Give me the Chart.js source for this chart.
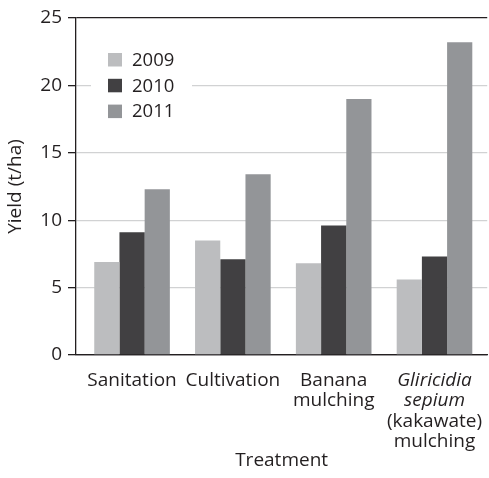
<!DOCTYPE html>
<html>
<head>
<meta charset="utf-8">
<script src="https://cdn.jsdelivr.net/npm/chart.js@4.4.1/dist/chart.umd.min.js"></script>
<style>
  html, body { margin: 0; padding: 0; background: #ffffff; }
  #wrap { width: 489px; height: 478px; position: relative; }
</style>
</head>
<body>
<div id="wrap"><canvas id="c"></canvas></div>
<script>
// ---- data ----
const categories = [
  ['Sanitation'],
  ['Cultivation'],
  ['Banana', 'mulching'],
  ['Gliricidia', 'sepium', '(kakawate)', 'mulching']
];
const italicLines = [[], [], [], [true, true, false, false]];
const seriesNames = ['2009', '2010', '2011'];
const yield2009 = [6.9, 8.5, 6.8, 5.6];
const yield2010 = [9.1, 7.1, 9.6, 7.3];
const yield2011 = [12.3, 13.4, 19.0, 23.2];
const yTicks = [0, 5, 10, 15, 20, 25];
const xTitle = 'Treatment';
const yTitle = 'Yield (t/ha)';

const colors = ['#bcbdbf', '#414042', '#939598'];
const ink = '#231f20';
const FONT = "'Open Sans', 'Noto Sans', sans-serif";

const seriesValues = [yield2009, yield2010, yield2011];
const datasets = seriesNames.map((name, s) => ({
  label: name,
  data: seriesValues[s].map((v, i) => ({ x: i, y: v })),
  backgroundColor: colors[s],
  borderWidth: 0,
  categoryPercentage: 0.75,
  barPercentage: 1.0
}));

// legend drawn inside chart area
const insideLegend = {
  id: 'insideLegend',
  afterDraw(chart) {
    const ctx = chart.ctx;
    const a = chart.chartArea;
    ctx.save();
    ctx.fillStyle = '#ffffff';
    ctx.fillRect(a.left + 15, a.top + 28, 101, 96);
    chart.data.datasets.forEach((ds, i) => {
      const y = a.top + 35 + i * 25.8;
      ctx.fillStyle = ds.backgroundColor;
      ctx.fillRect(a.left + 32, y, 14, 13.5);
      ctx.fillStyle = ink;
      ctx.font = '18.5px ' + FONT;
      ctx.textBaseline = 'middle';
      ctx.textAlign = 'left';
      ctx.fillText(ds.label, a.left + 56, y + 7.5);
    });
    ctx.restore();
  }
};

// draw the italic parts of tick labels
const italicTicks = {
  id: 'italicTicks',
  afterDraw(chart) {
    const xs = chart.scales.x;
    const items = xs.getLabelItems ? xs.getLabelItems() : xs._labelItems;
    if (!items) return;
    const ctx = chart.ctx;
    items.forEach((it, idx) => {
      const val = xs.ticks[idx] ? xs.ticks[idx].value : idx;
      const flags = italicLines[val] || [];
      const lines = categories[val] || [];
      const o = it.options;
      ctx.save();
      ctx.translate(o.translation[0], o.translation[1]);
      ctx.fillStyle = ink;
      ctx.textAlign = o.textAlign;
      ctx.textBaseline = o.textBaseline;
      ctx.font = 'italic ' + it.font.size + 'px ' + FONT;
      lines.forEach((ln, j) => {
        if (flags[j]) ctx.fillText(ln, 0, it.textOffset + j * it.font.lineHeight);
      });
      ctx.restore();
    });
  }
};

new Chart(document.getElementById('c'), {
  type: 'bar',
  data: { datasets },
  options: {
    responsive: true,
    maintainAspectRatio: false,
    animation: false,
    layout: { padding: { top: 18, right: 0, left: 0, bottom: 0 } },
    plugins: {
      legend: { display: false },
      tooltip: { enabled: false }
    },
    scales: {
      x: {
        type: 'linear',
        offset: false,
        min: -0.556,
        max: 3.523,
        afterBuildTicks(scale) {
          scale.ticks = categories.map((c, i) => ({ value: i }));
        },
        afterFit(scale) { scale.height = 123; },
        grid: { display: false },
        border: { display: true, color: ink, width: 1.3 },
        ticks: {
          autoSkip: false,
          maxRotation: 0,
          padding: 7,
          color: ink,
          font: { family: FONT, size: 19, lineHeight: 1.08 },
          callback(v) {
            const lines = categories[v];
            if (!lines) return '';
            const flags = italicLines[v] || [];
            return lines.map((ln, j) => flags[j] ? '' : ln);
          }
        },
        title: {
          display: true,
          text: xTitle,
          color: ink,
          font: { family: FONT, size: 19 },
          padding: { top: 0, bottom: 6 }
        }
      },
      y: {
        min: 0,
        max: 25,
        afterBuildTicks(scale) {
          scale.ticks = yTicks.map(v => ({ value: v }));
        },
        afterFit(scale) { scale.width = 76; },
        grid: {
          color: (c) => (c.tick && (c.tick.value === 0 || c.tick.value === 25)) ? ink : '#d1d2d3',
          lineWidth: 1.3,
          tickColor: ink,
          tickLength: 8
        },
        border: { display: true, color: ink, width: 1.3 },
        ticks: {
          padding: 6,
          color: ink,
          font: { family: FONT, size: 19 }
        },
        title: {
          display: true,
          text: yTitle,
          color: ink,
          font: { family: FONT, size: 19 },
          padding: { top: 4, bottom: 3 }
        }
      }
    }
  },
  plugins: [insideLegend, italicTicks]
});
</script>
</body>
</html>
